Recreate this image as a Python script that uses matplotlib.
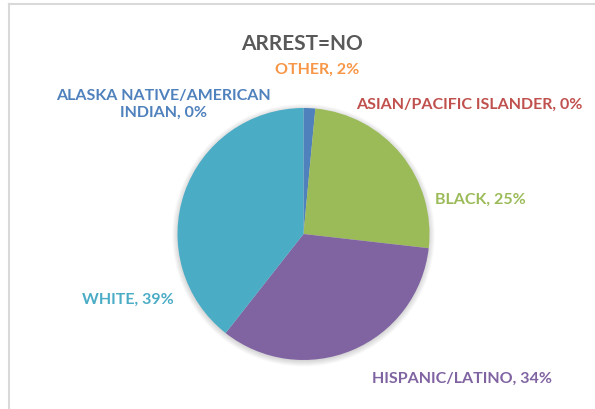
import matplotlib
matplotlib.use("Agg")
import matplotlib.pyplot as plt
from matplotlib.patches import Circle
from matplotlib.lines import Line2D

# ---- data ----
categories = ["ALASKA NATIVE/AMERICAN INDIAN", "ASIAN/PACIFIC ISLANDER", "BLACK",
              "HISPANIC/LATINO", "WHITE", "OTHER"]
slice_values = [1.5, 0.0, 25.3, 33.8, 39.4, 0.0]
pct_labels = ["0%", "0%", "25%", "34%", "39%", "2%"]
colors = ["#4F81BD", "#C0504D", "#9BBB59", "#8064A2", "#4BACC6", "#F79646"]
title = "ARREST=NO"

W, H = 595, 410
fig = plt.figure(figsize=(W / 100, H / 100), dpi=100)
fig.patch.set_facecolor("white")

FONT = ["Lato", "DejaVu Sans"]

def fx(x):
    return x / W

def fy(y):
    return 1 - y / H

# chart border (left and top visible)
fig.add_artist(Line2D([fx(9), fx(594)], [fy(5), fy(5)], color="#D9D9D9", lw=1.5,
                      transform=fig.transFigure))
fig.add_artist(Line2D([fx(9), fx(9)], [fy(5), fy(410)], color="#D9D9D9", lw=1.5,
                      transform=fig.transFigure))

cx, cy, r = 303.5, 235, 126
pad = 8
ax = fig.add_axes([fx(cx - r - pad), fy(cy + r + pad), (2 * (r + pad)) / W, (2 * (r + pad)) / H])
ax.set_axis_off()

# soft shadow
for i in range(8):
    ax.add_patch(Circle((0.0, -0.01), 1 + 0.006 * i, color="black", alpha=0.018, lw=0, zorder=0))

ax.pie(slice_values, colors=colors, startangle=90, counterclock=False, radius=1,
       wedgeprops=dict(linewidth=0, zorder=2))
lim = (r + pad) / r
ax.set_xlim(-lim, lim)
ax.set_ylim(-lim, lim)
ax.set_aspect("equal")

fig.text(fx(302), fy(44), title, ha="center", va="center", fontsize=15,
         fontweight="bold", color="#595959", family=FONT)

label_pos = {
    "ALASKA NATIVE/AMERICAN INDIAN": (163, 104),
    "ASIAN/PACIFIC ISLANDER": (469, 105),
    "BLACK": (480, 200),
    "HISPANIC/LATINO": (462, 379),
    "WHITE": (128, 300),
    "OTHER": (317, 70),
}
for cat, pct, col in zip(categories, pct_labels, colors):
    x, y = label_pos[cat]
    if cat.startswith("ALASKA"):
        txt = "ALASKA NATIVE/AMERICAN\nINDIAN, " + pct
    else:
        txt = f"{cat}, {pct}"
    fig.text(fx(x), fy(y), txt, ha="center", va="center", fontsize=11.5,
             fontweight="bold", color=col, family=FONT, linespacing=1.25)

fig.savefig("out.png", dpi=100, facecolor="white")
